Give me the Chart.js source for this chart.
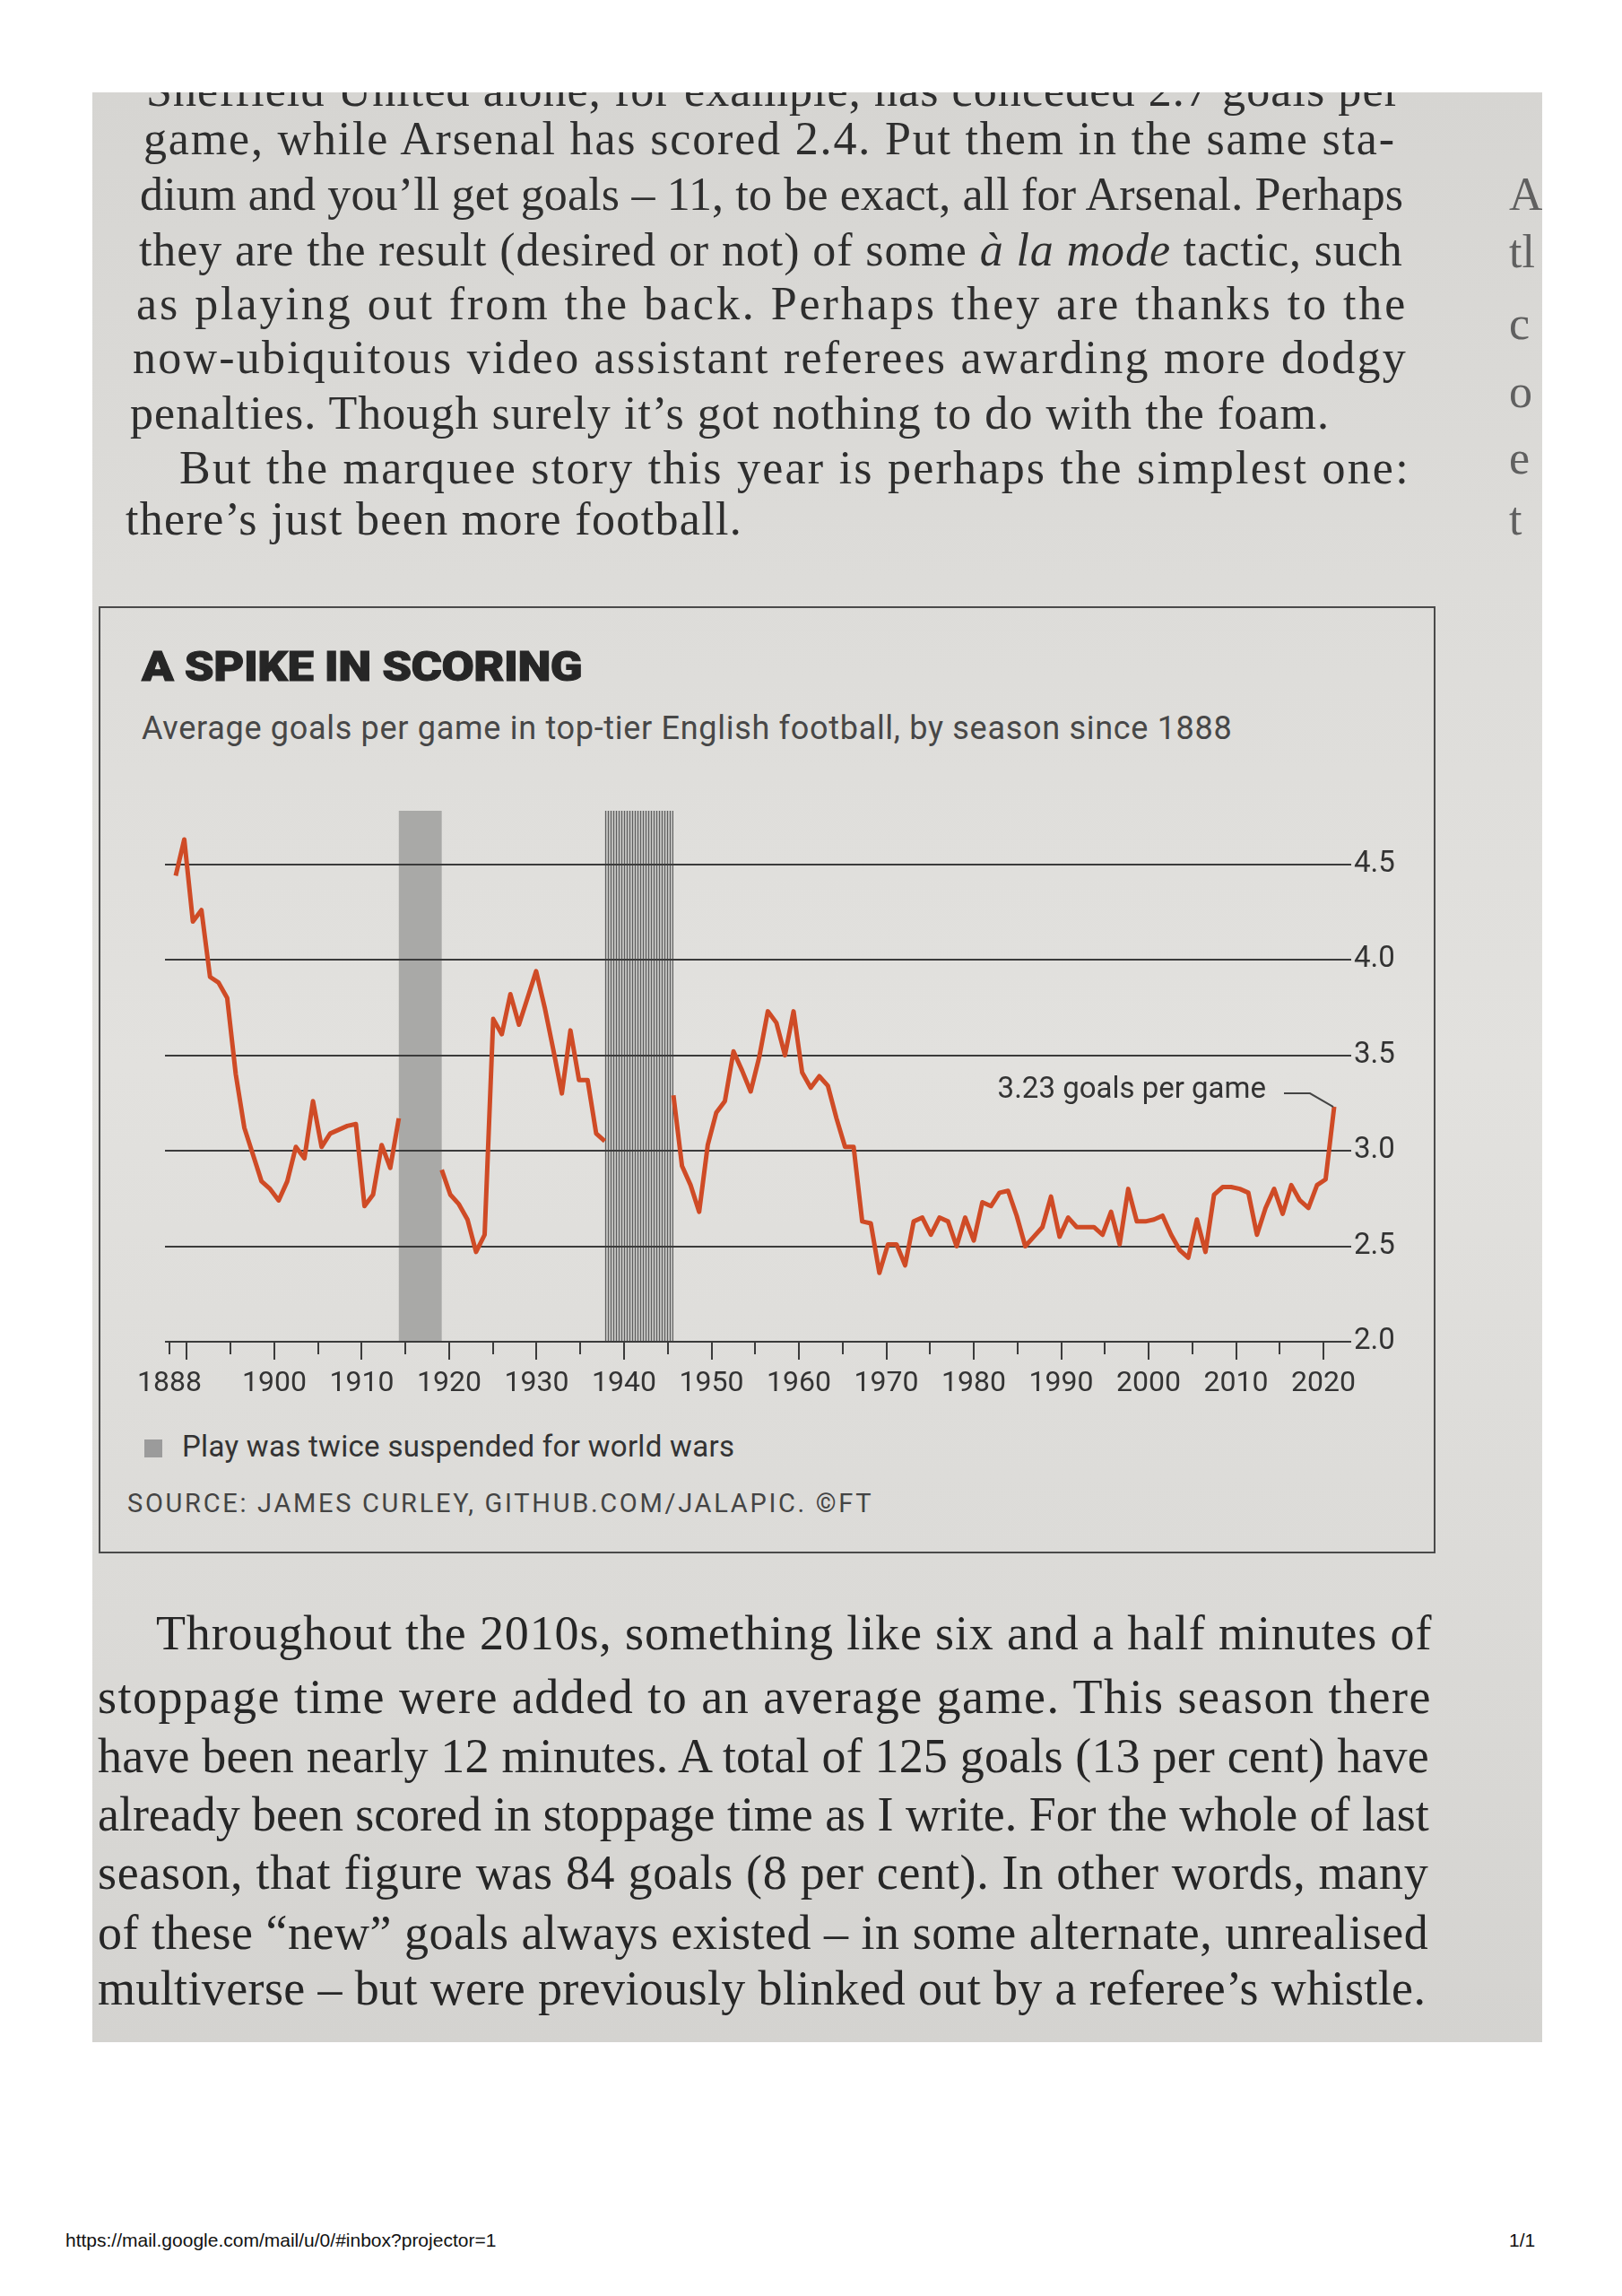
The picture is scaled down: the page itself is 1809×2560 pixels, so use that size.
<!DOCTYPE html>
<html>
<head>
<meta charset="utf-8">
<script src="https://cdn.jsdelivr.net/npm/chart.js@4.4.0/dist/chart.umd.min.js"></script>
<style>
  html, body { margin: 0; padding: 0; background: #fff; }
  body { width: 1809px; height: 2560px; position: relative; overflow: hidden; font-family: Roboto, sans-serif; }
  #photo {
    position: absolute; left: 103px; top: 103px; width: 1617px; height: 2174px; overflow: hidden;
    background: linear-gradient(180deg, #d6d5d2 0%, #dddcd9 25%, #e2e1de 50%, #dcdbd8 75%, #d4d3d0 100%);
  }
  .ln { position: absolute; white-space: nowrap; color: #2e2e2e; }
  .up { font-family: "Liberation Serif", serif; font-size: 52px; height: 60px; line-height: 60px; }
  .lo { font-family: "Liberation Serif", serif; font-size: 54px; height: 64px; line-height: 64px; color: #262626; }
  .edge { font-family: "Liberation Serif", serif; font-size: 52px; color: #606060; position: absolute; left: 1580px; }
  #box { position: absolute; left: 110px; top: 676px; width: 1491px; height: 1056px; border: 2px solid #4a4a4a; box-sizing: border-box; }
  #title { position: absolute; left: 158px; top: 716px; font-size: 47px; font-weight: 900; color: #262626; letter-spacing: -0.5px; line-height: 54px; transform: scaleX(1.12); transform-origin: left center; -webkit-text-stroke: 1px #262626; }
  #subtitle { position: absolute; left: 158px; top: 792px; font-size: 36px; color: #474747; line-height: 40px; letter-spacing: 0.7px; }
  #legend { position: absolute; left: 161px; top: 1593px; font-size: 33px; color: #333; line-height: 40px; letter-spacing: 0.3px; }
  #legend span { display: inline-block; width: 20px; height: 20px; background: #9b9b9b; margin-right: 22px; vertical-align: -1px; }
  #source { position: absolute; left: 142px; top: 1658px; font-size: 29px; color: #444; letter-spacing: 2.7px; line-height: 36px; }
  #chartWrap { position: absolute; left: 150px; top: 866px; width: 1450px; height: 720px; }
  #url { position: absolute; left: 73px; top: 2486px; font-family: "Liberation Sans", Arial, sans-serif; font-size: 21px; color: #111; }
  #page { position: absolute; left: 1683px; top: 2486px; font-family: "Liberation Sans", Arial, sans-serif; font-size: 21px; color: #111; }
</style>
</head>
<body>
<div id="photo">
  <div class="ln up fit" data-w="1399" style="left:60px;top:-32px;">Sheffield United alone, for example, has conceded 2.7 goals per</div>
  <div class="ln up fit" data-w="1397" style="left:57px;top:22px;">game, while Arsenal has scored 2.4. Put them in the same sta-</div>
  <div class="ln up fit" data-w="1409" style="left:53px;top:84px;">dium and you’ll get goals – 11, to be exact, all for Arsenal. Perhaps</div>
  <div class="ln up fit" data-w="1410" style="left:52px;top:146px;">they are the result (desired or not) of some <i>à la mode</i> tactic, such</div>
  <div class="ln up fit" data-w="1418" style="left:49px;top:206px;">as playing out from the back. Perhaps they are thanks to the</div>
  <div class="ln up fit" data-w="1422" style="left:45px;top:266px;">now-ubiquitous video assistant referees awarding more dodgy</div>
  <div class="ln up fit" data-w="1338" style="left:42px;top:328px;">penalties. Though surely it’s got nothing to do with the foam.</div>
  <div class="ln up fit" data-w="1373" style="left:97px;top:389px;">But the marquee story this year is perhaps the simplest one:</div>
  <div class="ln up fit" data-w="688" style="left:37px;top:446px;">there’s just been more football.</div>

  <div class="edge" style="top:84px;">A</div>
  <div class="edge" style="top:148px;">tl</div>
  <div class="edge" style="top:228px;">c</div>
  <div class="edge" style="top:304px;">o</div>
  <div class="edge" style="top:378px;">e</div>
  <div class="edge" style="top:446px;">t</div>

  <div class="ln lo fit" data-w="1423" style="left:71px;top:1686px;">Throughout the 2010s, something like six and a half minutes of</div>
  <div class="ln lo fit" data-w="1488" style="left:6px;top:1757px;">stoppage time were added to an average game. This season there</div>
  <div class="ln lo fit" data-w="1485" style="left:6px;top:1823px;">have been nearly 12 minutes. A total of 125 goals (13 per cent) have</div>
  <div class="ln lo fit" data-w="1485" style="left:6px;top:1888px;">already been scored in stoppage time as I write. For the whole of last</div>
  <div class="ln lo fit" data-w="1484" style="left:6px;top:1953px;">season, that figure was 84 goals (8 per cent). In other words, many</div>
  <div class="ln lo fit" data-w="1484" style="left:6px;top:2020px;">of these “new” goals always existed – in some alternate, unrealised</div>
  <div class="ln lo fit" data-w="1481" style="left:6px;top:2082px;">multiverse – but were previously blinked out by a referee’s whistle.</div>
</div>

<div id="box"></div>
<div id="title">A SPIKE IN SCORING</div>
<div id="subtitle">Average goals per game in top-tier English football, by season since 1888</div>
<div id="chartWrap"><canvas id="goalsChart" width="1450" height="720"></canvas></div>
<div id="legend"><span></span>Play was twice suspended for world wars</div>
<div id="source">SOURCE: JAMES CURLEY, GITHUB.COM/JALAPIC. ©FT</div>

<div id="url">https://mail.google.com/mail/u/0/#inbox?projector=1</div>
<div id="page">1/1</div>

<script>
// Seasons (start year) and average goals per game, split by the two wars
const seasonsPreWW1 = [1888, 1889, 1890, 1891, 1892, 1893, 1894, 1895, 1896, 1897,
                       1898, 1899, 1900, 1901, 1902, 1903, 1904, 1905, 1906, 1907,
                       1908, 1909, 1910, 1911, 1912, 1913, 1914];
const goalsPreWW1 = [4.44, 4.63, 4.20, 4.26, 3.91, 3.88, 3.80, 3.40, 3.12, 2.98,
                     2.84, 2.80, 2.74, 2.84, 3.02, 2.96, 3.26, 3.02, 3.09, 3.11,
                     3.13, 3.14, 2.71, 2.77, 3.03, 2.91, 3.17];

const seasonsInterWar = [1919, 1920, 1921, 1922, 1923, 1924, 1925, 1926, 1927, 1928,
                         1929, 1930, 1931, 1932, 1933, 1934, 1935, 1936, 1937, 1938];
const goalsInterWar = [2.90, 2.77, 2.72, 2.64, 2.47, 2.56, 3.69, 3.61, 3.82, 3.66,
                       3.80, 3.94, 3.75, 3.53, 3.30, 3.63, 3.37, 3.37, 3.09, 3.05];

const seasonsPostWW2 = [1946, 1947, 1948, 1949, 1950, 1951, 1952, 1953, 1954, 1955,
                        1956, 1957, 1958, 1959, 1960, 1961, 1962, 1963, 1964, 1965,
                        1966, 1967, 1968, 1969, 1970, 1971, 1972, 1973, 1974, 1975,
                        1976, 1977, 1978, 1979, 1980, 1981, 1982, 1983, 1984, 1985,
                        1986, 1987, 1988, 1989, 1990, 1991, 1992, 1993, 1994, 1995,
                        1996, 1997, 1998, 1999, 2000, 2001, 2002, 2003, 2004, 2005,
                        2006, 2007, 2008, 2009, 2010, 2011, 2012, 2013, 2014, 2015,
                        2016, 2017, 2018, 2019, 2020, 2021, 2022, 2023];
const goalsPostWW2 = [3.29, 2.92, 2.82, 2.68, 3.03, 3.20, 3.26, 3.52, 3.42, 3.31,
                      3.49, 3.73, 3.67, 3.50, 3.73, 3.41, 3.33, 3.39, 3.34, 3.17,
                      3.02, 3.02, 2.63, 2.62, 2.36, 2.51, 2.51, 2.40, 2.63, 2.65,
                      2.56, 2.65, 2.63, 2.50, 2.65, 2.53, 2.73, 2.71, 2.78, 2.79,
                      2.66, 2.50, 2.55, 2.60, 2.76, 2.55, 2.65, 2.60, 2.60, 2.60,
                      2.56, 2.68, 2.51, 2.80, 2.63, 2.63, 2.64, 2.66, 2.56, 2.48,
                      2.44, 2.64, 2.47, 2.77, 2.81, 2.81, 2.80, 2.78, 2.56, 2.70,
                      2.80, 2.67, 2.82, 2.74, 2.70, 2.82, 2.85, 3.23];

// War suspensions (gaps between seasons)
const wars = [[1914, 1919], [1938, 1946]];

// Axis ticks
const labelYears = [1888, 1900, 1910, 1920, 1930, 1940, 1950, 1960, 1970, 1980, 1990, 2000, 2010, 2020];
const minorYears = [1890, 1895, 1905, 1915, 1925, 1935, 1945, 1955, 1965, 1975, 1985, 1995, 2005, 2015];
const yTicks = [2.0, 2.5, 3.0, 3.5, 4.0, 4.5];

const lineColour = '#cf4b26';
const inkColour = '#3b3b3b';

// stretch each justified line of the page text to its measured width
document.querySelectorAll('.fit').forEach(el => {
    const target = +el.dataset.w;
    const natural = el.getBoundingClientRect().width;
    const n = el.textContent.length;
    el.style.letterSpacing = ((target - natural) / n).toFixed(2) + 'px';
});

function toPoints(xs, ys) {
    return xs.map((x, i) => ({ x: x, y: ys[i] }));
}

function lineSet(xs, ys) {
    return {
        data: toPoints(xs, ys),
        xAxisID: 'xd',
        borderColor: lineColour,
        borderWidth: 5,
        pointRadius: 0,
        tension: 0,
        borderJoinStyle: 'round',
        borderCapStyle: 'butt'
    };
}

// hatched fill for the second war bar
const hatch = document.createElement('canvas');
hatch.width = 3; hatch.height = 3;
const hctx = hatch.getContext('2d');
hctx.fillStyle = '#bdbdbb'; hctx.fillRect(0, 0, 3, 3);
hctx.fillStyle = '#5e5e5e'; hctx.fillRect(0, 0, 1, 3);

const warBars = {
    id: 'warBars',
    beforeDraw(chart) {
        const { ctx, scales: { xd, y } } = chart;
        const top = y.getPixelForValue(y.max);
        const bottom = y.getPixelForValue(y.min);
        ctx.save();
        wars.forEach((w, i) => {
            const x0 = xd.getPixelForValue(w[0]);
            const x1 = xd.getPixelForValue(w[1]);
            ctx.fillStyle = i === 0 ? '#a9a9a7' : ctx.createPattern(hatch, 'repeat');
            ctx.fillRect(x0, top, x1 - x0, bottom - top);
        });
        ctx.restore();
    }
};

const xTickMarks = {
    id: 'xTickMarks',
    afterDraw(chart) {
        const { ctx, scales: { x, y } } = chart;
        const base = y.getPixelForValue(2);
        ctx.save();
        ctx.strokeStyle = inkColour;
        ctx.lineWidth = 2;
        labelYears.concat(minorYears).forEach(v => {
            const px = Math.round(x.getPixelForValue(v));
            const len = (v % 10 === 0) ? 20 : 14;
            ctx.beginPath();
            ctx.moveTo(px, base);
            ctx.lineTo(px, base + len);
            ctx.stroke();
        });
        ctx.restore();
    }
};

const lastLabel = {
    id: 'lastLabel',
    afterDatasetsDraw(chart) {
        const { ctx, scales: { xd, y } } = chart;
        const n = seasonsPostWW2.length - 1;
        const v = goalsPostWW2[n];
        const px = xd.getPixelForValue(seasonsPostWW2[n]);
        const py = y.getPixelForValue(v);
        ctx.save();
        ctx.strokeStyle = '#444';
        ctx.lineWidth = 2;
        ctx.beginPath();
        ctx.moveTo(px - 56, py - 15);
        ctx.lineTo(px - 27, py - 15);
        ctx.lineTo(px - 1, py);
        ctx.stroke();
        ctx.fillStyle = '#333';
        ctx.font = '33px Roboto';
        ctx.textAlign = 'right';
        ctx.textBaseline = 'middle';
        ctx.fillText(v.toFixed(2) + ' goals per game', px - 76, py - 18);
        ctx.restore();
    }
};

const ctx = document.getElementById('goalsChart').getContext('2d');
new Chart(ctx, {
    type: 'line',
    data: {
        datasets: [
            lineSet(seasonsPreWW1, goalsPreWW1),
            lineSet(seasonsInterWar, goalsInterWar),
            lineSet(seasonsPostWW2, goalsPostWW2)
        ]
    },
    options: {
        responsive: false,
        animation: false,
        devicePixelRatio: 1,
        layout: { padding: { left: 34, top: 38, right: 0, bottom: 0 } },
        plugins: { legend: { display: false }, tooltip: { enabled: false } },
        scales: {
            // axis the seasons are plotted on
            xd: {
                type: 'linear',
                display: false,
                min: 1886.75,
                max: 2023.94
            },
            // axis that carries the printed year ticks
            x: {
                type: 'linear',
                min: 1887.49,
                max: 2022.15,
                afterBuildTicks: s => { s.ticks = labelYears.map(v => ({ value: v })); },
                afterFit: s => { s.height = 90; s.paddingLeft = 0; s.paddingRight = 0; },
                grid: { display: false, drawTicks: false },
                border: { display: false },
                ticks: {
                    autoSkip: false, maxRotation: 0, padding: 28,
                    color: '#333', font: { family: 'Roboto', size: 32 },
                    callback: v => String(v)
                }
            },
            y: {
                position: 'right',
                min: 2,
                max: 4.78,
                afterBuildTicks: s => { s.ticks = yTicks.map(v => ({ value: v })); },
                afterFit: s => { s.width = 103; s.paddingTop = 0; s.paddingBottom = 0; },
                grid: { color: inkColour, lineWidth: 2, tickLength: 10, drawTicks: true },
                border: { display: false },
                ticks: {
                    padding: 3, color: '#333', font: { family: 'Roboto', size: 33 },
                    callback: v => v.toFixed(1)
                }
            }
        }
    },
    plugins: [warBars, xTickMarks, lastLabel]
});
</script>
</body>
</html>
